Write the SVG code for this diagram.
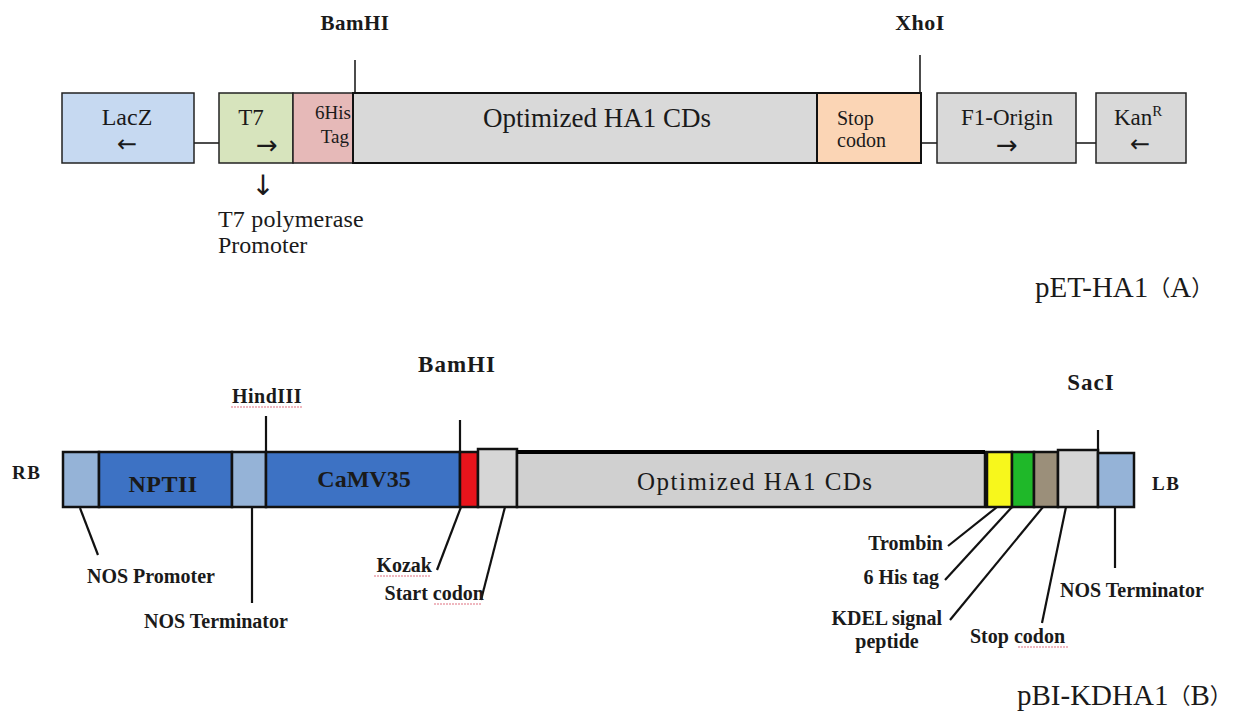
<svg xmlns="http://www.w3.org/2000/svg" width="1240" height="713" viewBox="0 0 1240 713">
<defs>
<style>
.bx{stroke:#222;stroke-width:1.5}
.bb{stroke:#111;stroke-width:2.5}
.t{font-family:"Liberation Serif","DejaVu Serif",serif;fill:#1a1a1a}
.tb{font-family:"Liberation Serif","DejaVu Serif",serif;font-weight:bold;fill:#1a1a1a}
.ar{font-family:"DejaVu Sans",sans-serif;fill:#1a1a1a}
.ln{stroke:#111;stroke-width:1.5;fill:none}
.ld{stroke:#111;stroke-width:2.2;fill:none}
.sq{stroke:#e07080;stroke-width:1.2;fill:none;stroke-dasharray:2 1}
</style>
</defs>
<rect width="1240" height="713" fill="#fff"/>

<!-- connectors -->
<g id="connectors">
  <line class="ln" x1="194" y1="143" x2="219" y2="143"/>
  <line class="ln" x1="921" y1="143" x2="937" y2="143"/>
  <line class="ln" x1="1076" y1="143" x2="1096" y2="143"/>
  <line class="ln" x1="355" y1="60" x2="355" y2="93"/>
  <line class="ln" x1="920" y1="55" x2="920" y2="93"/>
  <line class="ld" x1="266" y1="416" x2="266" y2="452"/>
  <line class="ld" x1="460" y1="420" x2="460" y2="452"/>
  <line class="ld" x1="1098" y1="430" x2="1098" y2="452"/>
  <line class="ld" x1="80" y1="508" x2="98" y2="555"/>
  <line class="ld" x1="252" y1="507" x2="252" y2="603"/>
  <line class="ld" x1="461" y1="507" x2="437" y2="570"/>
  <line class="ld" x1="505" y1="507" x2="481" y2="600"/>
  <line class="ld" x1="997" y1="507" x2="948" y2="546"/>
  <line class="ld" x1="1012" y1="507" x2="945" y2="580"/>
  <line class="ld" x1="1043" y1="507" x2="950" y2="620"/>
  <line class="ld" x1="1066" y1="507" x2="1042" y2="623"/>
  <line class="ld" x1="1115" y1="507" x2="1115" y2="568"/>
</g>

<!-- pET-HA1 (A) -->
<g id="lacz">
  <rect class="bx" x="62" y="93" width="132" height="70" fill="#c6d9f1"/>
  <text class="t" x="127" y="125" font-size="24" text-anchor="middle">LacZ</text>
  <text class="ar" x="127" y="152" font-size="24" text-anchor="middle">←</text>
</g>
<g id="t7">
  <rect class="bx" x="219" y="93" width="74" height="70" fill="#d7e4bd"/>
  <text class="t" x="251" y="125" font-size="23" text-anchor="middle">T7</text>
  <text class="ar" x="267" y="154" font-size="26" text-anchor="middle">→</text>
</g>
<g id="his6">
  <rect class="bx" x="293" y="93" width="60" height="70" fill="#e6b9b8"/>
  <text class="t" x="351" y="119" font-size="19" text-anchor="end">6His</text>
  <text class="t" x="349" y="143" font-size="19" text-anchor="end">Tag</text>
</g>
<g id="ha1a">
  <rect x="353" y="93" width="464" height="70" fill="#d9d9d9" stroke="#111" stroke-width="2"/>
  <text class="t" x="483" y="127" font-size="27" fill="#111">Optimized HA1 CDs</text>
</g>
<g id="stopa">
  <rect x="817" y="93" width="104" height="70" fill="#fbd5b5" stroke="#111" stroke-width="2"/>
  <text class="t" x="837" y="125" font-size="20">Stop</text>
  <text class="t" x="837" y="147" font-size="20">codon</text>
</g>
<g id="f1">
  <rect class="bx" x="937" y="93" width="139" height="70" fill="#d9d9d9"/>
  <text class="t" x="1007" y="125" font-size="23" text-anchor="middle">F1-Origin</text>
  <text class="ar" x="1007" y="154" font-size="26" text-anchor="middle">→</text>
</g>
<g id="kan">
  <rect class="bx" x="1096" y="93" width="90" height="70" fill="#d9d9d9"/>
  <text class="t" x="1114" y="125" font-size="23">Kan<tspan font-size="15" dy="-9">R</tspan></text>
  <text class="ar" x="1140" y="152" font-size="24" text-anchor="middle">←</text>
</g>
<g id="bamhi-a">
  <text class="tb" x="355" y="30" font-size="21" text-anchor="middle" letter-spacing="0.5">BamHI</text>
</g>
<g id="xhoi">
  <text class="tb" x="920" y="30" font-size="22" text-anchor="middle" letter-spacing="0.5">XhoI</text>
</g>
<g id="t7promoter">
  <text class="ar" x="263" y="195" font-size="28" text-anchor="middle">↓</text>
  <text class="t" x="218" y="227" font-size="24" letter-spacing="0.2">T7 polymerase</text>
  <text class="t" x="218" y="253" font-size="24">Promoter</text>
</g>
<g id="title-a">
  <text class="t" x="1035" y="297" font-size="29" fill="#111">pET-HA1<tspan font-family="'Noto Sans CJK SC',sans-serif" font-size="22" dy="-2">（</tspan><tspan dy="2">A</tspan><tspan font-family="'Noto Sans CJK SC',sans-serif" font-size="22" dy="-2">）</tspan></text>
</g>

<!-- pBI-KDHA1 (B) -->
<g id="rb"><text class="tb" x="12" y="479" font-size="19" letter-spacing="1.5">RB</text></g>
<g id="nosprom-box"><rect class="bb" x="63" y="452" width="36" height="55" fill="#95b3d7"/></g>
<g id="nptii">
  <rect class="bb" x="99" y="452" width="133" height="55" fill="#3d72c4"/>
  <text class="tb" x="163" y="492" font-size="24" text-anchor="middle" fill="#16306a" letter-spacing="0.5">NPTII</text>
</g>
<g id="noster-box1"><rect class="bb" x="232" y="452" width="34" height="55" fill="#95b3d7"/></g>
<g id="camv35">
  <rect class="bb" x="266" y="452" width="194" height="55" fill="#3d72c4"/>
  <text class="tb" x="364" y="487" font-size="24" text-anchor="middle" fill="#16306a">CaMV35</text>
</g>
<g id="kozak-box"><rect class="bb" x="460" y="452" width="18" height="55" fill="#e8141c"/></g>
<g id="start-box"><rect class="bb" x="478" y="449" width="39" height="58" fill="#d6d6d6"/></g>
<g id="ha1b">
  <rect class="bb" x="517" y="452" width="468" height="55" fill="#d0d0d0"/>
  <line x1="517" y1="452" x2="985" y2="452" stroke="#000" stroke-width="4"/>
  <text class="t" x="637" y="490" font-size="25" fill="#333" letter-spacing="1.5">Optimized HA1 CDs</text>
</g>
<g id="trombin-box"><rect class="bb" x="987" y="452" width="25" height="55" fill="#f7f71c"/></g>
<g id="his-box"><rect class="bb" x="1012" y="452" width="22" height="55" fill="#1fb829"/></g>
<g id="kdel-box"><rect class="bb" x="1034" y="452" width="24" height="55" fill="#9b8f7a"/></g>
<g id="stop-box"><rect class="bb" x="1058" y="450" width="40" height="57" fill="#d6d6d6"/></g>
<g id="noster-box2"><rect class="bb" x="1098" y="453" width="36" height="54" fill="#95b3d7"/></g>
<g id="lb"><text class="tb" x="1152" y="490" font-size="19" letter-spacing="1.5">LB</text></g>

<g id="hindiii">
  <text class="tb" x="267" y="403" font-size="20" text-anchor="middle" letter-spacing="0.5">HindIII</text>
  <path class="sq" d="M231 407 H303"/>
</g>
<g id="bamhi-b"><text class="tb" x="457" y="372" font-size="23" text-anchor="middle" letter-spacing="1">BamHI</text></g>
<g id="saci"><text class="tb" x="1091" y="390" font-size="23" text-anchor="middle" letter-spacing="1">SacI</text></g>

<g id="lbl-nosprom"><text class="tb" x="87" y="583" font-size="20">NOS Promoter</text></g>
<g id="lbl-noster1"><text class="tb" x="144" y="628" font-size="20">NOS Terminator</text></g>
<g id="lbl-kozak">
  <text class="tb" x="432" y="572" font-size="20" text-anchor="end">Kozak</text>
  <path class="sq" d="M374 576 H430"/>
</g>
<g id="lbl-start">
  <text class="tb" x="484" y="600" font-size="20" text-anchor="end">Start codon</text>
  <path class="sq" d="M434 604 H482"/>
</g>
<g id="lbl-trombin"><text class="tb" x="943" y="550" font-size="20" text-anchor="end">Trombin</text></g>
<g id="lbl-his"><text class="tb" x="939" y="584" font-size="20" text-anchor="end">6 His tag</text></g>
<g id="lbl-kdel">
  <text class="tb" x="942" y="625" font-size="20" text-anchor="end">KDEL signal</text>
  <text class="tb" x="887" y="648" font-size="20" text-anchor="middle">peptide</text>
</g>
<g id="lbl-stop">
  <text class="tb" x="970" y="643" font-size="20">Stop codon</text>
  <path class="sq" d="M1018 647 H1068"/>
</g>
<g id="lbl-noster2"><text class="tb" x="1060" y="597" font-size="20">NOS Terminator</text></g>
<g id="title-b">
  <text class="t" x="1017" y="705" font-size="29" fill="#111">pBI-KDHA1<tspan font-family="'Noto Sans CJK SC',sans-serif" font-size="22" dy="-2">（</tspan><tspan dy="2">B</tspan><tspan font-family="'Noto Sans CJK SC',sans-serif" font-size="22" dy="-2">）</tspan></text>
</g>
</svg>
